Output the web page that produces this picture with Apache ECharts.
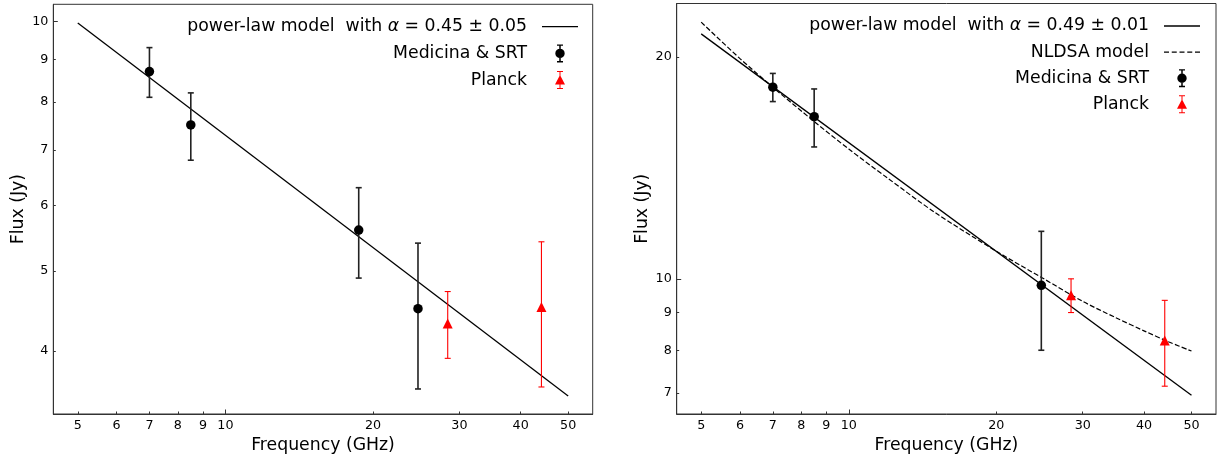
<!DOCTYPE html>
<html>
<head>
<meta charset="utf-8">
<script src="https://cdn.jsdelivr.net/npm/echarts@6/dist/echarts.min.js"></script>
<style>
html,body{margin:0;padding:0;background:#fff;}
#c{width:1221px;height:462px;}
</style>
</head>
<body>
<div id="c"></div>
<script>
// ---------- Left panel data ----------
const leftMedFreq = [7.0, 8.5, 18.7, 24.7];
const leftMedFlux = [8.7, 7.5, 5.6, 4.5];
const leftMedErr = [0.6, 0.7, 0.7, 0.9];
const leftPlanckFreq = [28.4, 44.1];
const leftPlanckFlux = [4.32, 4.52];
const leftPlanckErr = [0.40, 0.90];
const leftPowerLawFreq = [5, 50];
const leftPowerLawFlux = [9.96, 3.53];
const leftPowerLawName = 'power-law model  with α = 0.45 ± 0.05';

// ---------- Right panel data ----------
const rightMedFreq = [7.0, 8.5, 24.7];
const rightMedFlux = [18.2, 16.6, 9.8];
const rightMedErr = [0.8, 1.5, 1.8];
const rightPlanckFreq = [28.4, 44.1];
const rightPlanckFlux = [9.5, 8.25];
const rightPlanckErr = [0.5, 1.1];
const rightPowerLawFreq = [5, 50];
const rightPowerLawFlux = [21.5, 6.95];
const rightPowerLawName = 'power-law model  with α = 0.49 ± 0.01';
const nldsaFreq = [5, 6, 7, 8.5, 10, 12, 15, 20, 25, 30, 35, 40, 45, 50];
const nldsaFlux = [22.3, 19.9, 18.2, 16.35, 15.0, 13.7, 12.3, 10.9, 10.0, 9.32, 8.86, 8.5, 8.21, 7.98];

// ---------- Ticks ----------
const xTickValues = [5, 6, 7, 8, 9, 10, 20, 30, 40, 50];
const leftYTickValues = [4, 5, 6, 7, 8, 9, 10];
const rightYTickValues = [7, 8, 9, 10, 20];
const majorTickValues = [10];

// ---------- Axis ranges ----------
const X_MIN = 4.457, X_MAX = 56.1;
const LEFT_Y_MIN = 3.358, LEFT_Y_MAX = 10.49;
const RIGHT_Y_MIN = 6.555, RIGHT_Y_MAX = 23.64;

const FONT = 'DejaVu Sans';
const AX = '#333';

const pairs = (xs, ys) => xs.map((x, i) => [x, ys[i]]);
const errData = (xs, ys, es) => xs.map((x, i) => [x, ys[i] - es[i], ys[i] + es[i]]);

function errRender(color, lw, cap) {
  return function (params, api) {
    const x = api.value(0);
    const lo = api.coord([x, api.value(1)]);
    const hi = api.coord([x, api.value(2)]);
    const st = { stroke: color, lineWidth: lw, fill: null, opacity: 1 };
    return {
      type: 'group',
      children: [
        { type: 'line', shape: { x1: lo[0], y1: lo[1], x2: hi[0], y2: hi[1] }, style: st },
        { type: 'line', shape: { x1: lo[0] - cap, y1: lo[1], x2: lo[0] + cap, y2: lo[1] }, style: st },
        { type: 'line', shape: { x1: hi[0] - cap, y1: hi[1], x2: hi[0] + cap, y2: hi[1] }, style: st }
      ]
    };
  };
}

function xMain(gi) {
  return {
    type: 'log', logBase: 10, gridIndex: gi, min: X_MIN, max: X_MAX, position: 'bottom',
    axisLine: { show: true, lineStyle: { color: AX, width: 1 } },
    axisTick: { show: true, inside: true, length: 2.5, customValues: xTickValues, lineStyle: { color: AX, width: 1 } },
    axisLabel: { show: true, customValues: xTickValues, margin: 5, fontSize: 12.7, color: '#000', fontFamily: FONT,
      formatter: v => String(Math.round(v)) },
    splitLine: { show: false }, minorTick: { show: false }, minorSplitLine: { show: false },
    name: 'Frequency (GHz)', nameLocation: 'middle', nameGap: 21,
    nameTextStyle: { fontSize: 17.3, color: '#000', fontFamily: FONT }
  };
}
function xMajor(gi) {
  return {
    type: 'log', logBase: 10, gridIndex: gi, min: X_MIN, max: X_MAX, position: 'bottom',
    axisLine: { show: false },
    axisTick: { show: true, inside: true, length: 4.5, customValues: majorTickValues, lineStyle: { color: AX, width: 1 } },
    axisLabel: { show: false }, splitLine: { show: false }
  };
}
function yMain(gi, mn, mx, ticks) {
  return {
    type: 'log', logBase: 10, gridIndex: gi, min: mn, max: mx, position: 'left',
    axisLine: { show: true, lineStyle: { color: AX, width: 1 } },
    axisTick: { show: true, inside: true, length: 2.5, customValues: ticks, lineStyle: { color: AX, width: 1 } },
    axisLabel: { show: true, customValues: ticks, margin: 5, fontSize: 12.7, color: '#000', fontFamily: FONT,
      formatter: v => String(Math.round(v)) },
    splitLine: { show: false }, minorTick: { show: false }, minorSplitLine: { show: false },
    name: 'Flux (Jy)', nameLocation: 'middle', nameGap: 26,
    nameTextStyle: { fontSize: 17.3, color: '#000', fontFamily: FONT }
  };
}
function yMajor(gi, mn, mx) {
  return {
    type: 'log', logBase: 10, gridIndex: gi, min: mn, max: mx, position: 'left',
    axisLine: { show: false },
    axisTick: { show: true, inside: true, length: 4.5, customValues: majorTickValues, lineStyle: { color: AX, width: 1 } },
    axisLabel: { show: false }, splitLine: { show: false }
  };
}

// legend icons (46 x 20 box, content on the right part)
const ICON_LINE = 'path://M0,0 M46,20 M10,9.35 L46,9.35 L46,10.65 L10,10.65 Z';
const ICON_DASH = 'path://M0,0 M46,20 ' +
  'M10,9.4 L15,9.4 L15,10.6 L10,10.6 Z ' +
  'M17.75,9.4 L22.75,9.4 L22.75,10.6 L17.75,10.6 Z ' +
  'M25.5,9.4 L30.5,9.4 L30.5,10.6 L25.5,10.6 Z ' +
  'M33.25,9.4 L38.25,9.4 L38.25,10.6 L33.25,10.6 Z ' +
  'M41,9.4 L46,9.4 L46,10.6 L41,10.6 Z';
const ICON_CIRC = 'path://M0,0 M46,20 ' +
  'M27.25,1 L28.75,1 L28.75,19 L27.25,19 Z ' +
  'M25,1 L31,1 L31,2.4 L25,2.4 Z ' +
  'M25,17.6 L31,17.6 L31,19 L25,19 Z ' +
  'M23.3,10 A4.7,4.7 0 1,1 32.7,10 A4.7,4.7 0 1,1 23.3,10 Z';
const ICON_TRI = 'path://M0,0 M46,20 ' +
  'M27.5,1 L28.5,1 L28.5,19 L27.5,19 Z ' +
  'M25,1 L31,1 L31,2 L25,2 Z ' +
  'M25,18 L31,18 L31,19 L25,19 Z ' +
  'M28,5 L33,14.5 L23,14.5 Z';

function legendCfg(right, top, gap, items) {
  return {
    orient: 'vertical', right: right, top: top, padding: 0,
    itemWidth: 46, itemHeight: 20, itemGap: gap, align: 'right',
    selectedMode: false,
    itemStyle: { borderWidth: 0, opacity: 1 },
    textStyle: { fontSize: 17.3, color: '#000', fontFamily: FONT,
      rich: { i: { fontStyle: 'italic', fontSize: 17.3, color: '#000', fontFamily: FONT } } },
    formatter: name => name.replace('α', '{i|α}'),
    data: items
  };
}

const option = {
  animation: false,
  backgroundColor: '#fff',
  textStyle: { fontFamily: FONT },
  grid: [
    { left: 53.3, top: 4.3, width: 539.4, height: 409.7, show: true, borderColor: AX, borderWidth: 1, backgroundColor: 'transparent' },
    { left: 676.7, top: 3.5, width: 539.3, height: 410.5, show: true, borderColor: AX, borderWidth: 1, backgroundColor: 'transparent' }
  ],
  xAxis: [xMain(0), xMain(1), xMajor(0), xMajor(1)],
  yAxis: [
    yMain(0, LEFT_Y_MIN, LEFT_Y_MAX, leftYTickValues),
    yMain(1, RIGHT_Y_MIN, RIGHT_Y_MAX, rightYTickValues),
    yMajor(0, LEFT_Y_MIN, LEFT_Y_MAX),
    yMajor(1, RIGHT_Y_MIN, RIGHT_Y_MAX)
  ],
  legend: [
    legendCfg(1221 - 578, 16.7, 6.7, [
      { name: leftPowerLawName, icon: ICON_LINE },
      { name: 'Medicina & SRT', icon: ICON_CIRC },
      { name: 'Planck', icon: ICON_TRI }
    ]),
    legendCfg(1221 - 1200, 16, 6.1, [
      { name: rightPowerLawName, icon: ICON_LINE },
      { name: 'NLDSA model', icon: ICON_DASH },
      { name: 'Medicina & SRT', icon: ICON_CIRC },
      { name: 'Planck', icon: ICON_TRI }
    ])
  ],
  series: [
    // ---- left ----
    { type: 'line', name: leftPowerLawName, xAxisIndex: 0, yAxisIndex: 0, data: pairs(leftPowerLawFreq, leftPowerLawFlux),
      symbol: 'none', color: '#000', lineStyle: { color: '#000', width: 1.3 }, z: 1 },
    { type: 'custom', name: 'left-med-err', xAxisIndex: 0, yAxisIndex: 0, data: errData(leftMedFreq, leftMedFlux, leftMedErr),
      encode: { x: 0, y: [1, 2] }, renderItem: errRender('#222', 1.6, 3), z: 2 },
    { type: 'scatter', name: 'Medicina & SRT', xAxisIndex: 0, yAxisIndex: 0, data: pairs(leftMedFreq, leftMedFlux),
      symbol: 'circle', symbolSize: 9.5, color: '#000', itemStyle: { color: '#000', borderWidth: 0, opacity: 1 }, z: 3 },
    { type: 'custom', name: 'left-planck-err', xAxisIndex: 0, yAxisIndex: 0, data: errData(leftPlanckFreq, leftPlanckFlux, leftPlanckErr),
      encode: { x: 0, y: [1, 2] }, renderItem: errRender('#ff0000', 1.1, 3), z: 2 },
    { type: 'scatter', name: 'Planck', xAxisIndex: 0, yAxisIndex: 0, data: pairs(leftPlanckFreq, leftPlanckFlux),
      symbol: 'triangle', symbolSize: 10, color: '#ff0000', itemStyle: { color: '#ff0000', borderWidth: 0, opacity: 1 }, z: 3 },
    // ---- right ----
    { type: 'line', name: rightPowerLawName, xAxisIndex: 1, yAxisIndex: 1, data: pairs(rightPowerLawFreq, rightPowerLawFlux),
      symbol: 'none', color: '#000', lineStyle: { color: '#000', width: 1.3 }, z: 1 },
    { type: 'line', name: 'NLDSA model', xAxisIndex: 1, yAxisIndex: 1, data: pairs(nldsaFreq, nldsaFlux),
      symbol: 'none', smooth: 0.3, color: '#000', lineStyle: { color: '#000', width: 1.2, type: [5, 2.2] }, z: 1 },
    { type: 'custom', name: 'right-med-err', xAxisIndex: 1, yAxisIndex: 1, data: errData(rightMedFreq, rightMedFlux, rightMedErr),
      encode: { x: 0, y: [1, 2] }, renderItem: errRender('#222', 1.6, 3), z: 2 },
    { type: 'scatter', name: 'Medicina & SRT', xAxisIndex: 1, yAxisIndex: 1, data: pairs(rightMedFreq, rightMedFlux),
      symbol: 'circle', symbolSize: 9.5, color: '#000', itemStyle: { color: '#000', borderWidth: 0, opacity: 1 }, z: 3 },
    { type: 'custom', name: 'right-planck-err', xAxisIndex: 1, yAxisIndex: 1, data: errData(rightPlanckFreq, rightPlanckFlux, rightPlanckErr),
      encode: { x: 0, y: [1, 2] }, renderItem: errRender('#ff0000', 1.1, 3), z: 2 },
    { type: 'scatter', name: 'Planck', xAxisIndex: 1, yAxisIndex: 1, data: pairs(rightPlanckFreq, rightPlanckFlux),
      symbol: 'triangle', symbolSize: 10, color: '#ff0000', itemStyle: { color: '#ff0000', borderWidth: 0, opacity: 1 }, z: 3 }
  ]
};

const chart = echarts.init(document.getElementById('c'), null, { renderer: 'canvas' });
chart.setOption(option);
</script>
</body>
</html>
